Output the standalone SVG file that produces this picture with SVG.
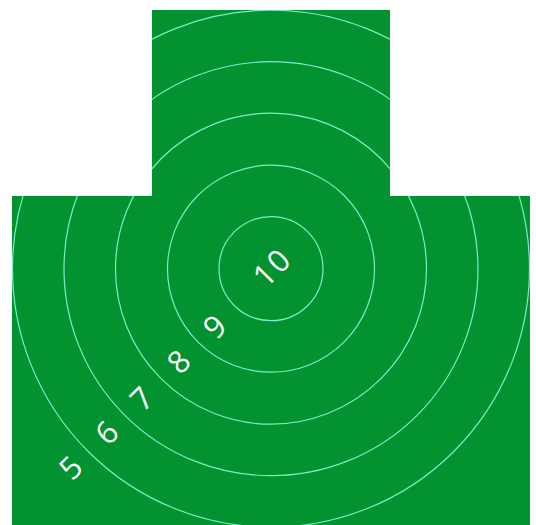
<svg xmlns="http://www.w3.org/2000/svg" width="536" height="525" viewBox="0 0 536 525">
<style>
.ring{fill:none;stroke:#7eeac6;stroke-width:1.2}
.num{fill:#ffffff;font-family:"Open Sans","Liberation Sans",sans-serif;font-size:31px;text-anchor:middle;dominant-baseline:central}
</style>
<defs>
<clipPath id="shape"><path d="M152 10H390V196H530V525H12V196H152Z"/></clipPath>
</defs>
<rect width="536" height="525" fill="#ffffff"/>
<g id="target">
<path d="M152 10H390V196H530V525H12V196H152Z" fill="#039230"/>
</g>
<g id="rings" clip-path="url(#shape)">
<circle class="ring" cx="271" cy="268.7" r="52"/>
<circle class="ring" cx="271" cy="268.7" r="103.5"/>
<circle class="ring" cx="271" cy="268.7" r="155.5"/>
<circle class="ring" cx="271" cy="268.7" r="207"/>
<circle class="ring" cx="271" cy="268.7" r="258.5"/>
</g>
<g id="labels">
<text class="num" transform="translate(271.5 266.5) rotate(-45)" letter-spacing="2">10</text>
<text class="num" transform="translate(214 326) rotate(-45)">9</text>
<text class="num" transform="translate(178 361) rotate(-45)">8</text>
<text class="num" transform="translate(141 398) rotate(-45)">7</text>
<text class="num" transform="translate(106 432) rotate(-45)">6</text>
<text class="num" transform="translate(70 467) rotate(-45)">5</text>
</g>
</svg>
